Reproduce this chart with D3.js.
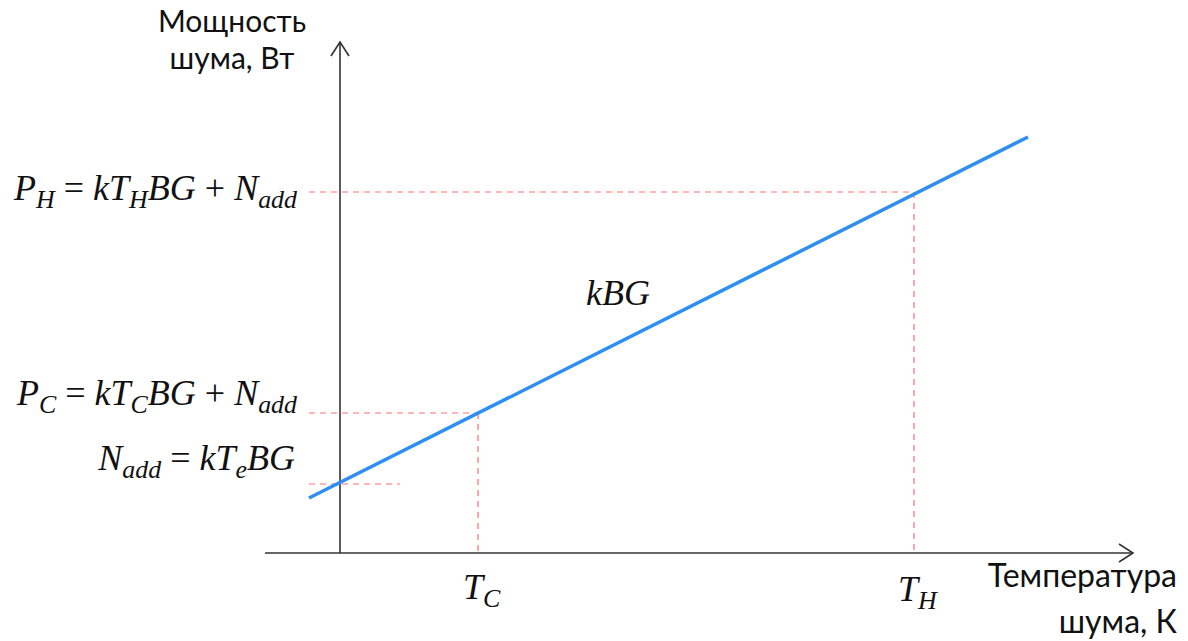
<!DOCTYPE html>
<html><head><meta charset="utf-8">
<script src="https://cdn.jsdelivr.net/npm/d3@7"></script>
<style>body{margin:0;background:#fff}svg{display:block}</style>
</head><body>
<svg id="c" width="1188" height="641"></svg>
<script>
// Data (arbitrary units: temperature T, power P)
const axisT = [-75, 793];        // x-axis extent
const axisP = [0, 511];          // y-axis extent
const lineT = [-31, 688];        // kBG line endpoints (temperature)
const lineP = [55, 416];         // kBG line endpoints (power)
const tempNames = ["T_C", "T_H"];
const tempValues = [138, 574];
const powerNames = ["P_H", "P_C", "N_add"];
const powerValues = [361, 140, 69];
const powerDashEnd = [574, 138, 60]; // where each horizontal guide ends (T)

const svg = d3.select("#c");
const x = d3.scaleLinear().domain([0, 574]).range([340, 914]);
const y = d3.scaleLinear().domain([0, 361]).range([553, 192]);

const axisColor = "#333";
const dashColor = "#ff6e6e";
const lineColor = "#2f8fef";

// dashed guides
powerValues.forEach((p, i) => {
  svg.append("line")
    .attr("x1", x(-31)).attr("x2", x(powerDashEnd[i]))
    .attr("y1", y(p)).attr("y2", y(p))
    .attr("stroke", dashColor).attr("stroke-width", 1.2)
    .attr("stroke-dasharray", "6,5");
});
tempValues.forEach((t, i) => {
  svg.append("line")
    .attr("x1", x(t)).attr("x2", x(t))
    .attr("y1", y(powerValues[i === 0 ? 1 : 0])).attr("y2", y(0))
    .attr("stroke", dashColor).attr("stroke-width", 1.2)
    .attr("stroke-dasharray", "6,5");
});

// axes
svg.append("line").attr("x1", x(axisT[0])).attr("x2", x(axisT[1]))
  .attr("y1", y(0)).attr("y2", y(0)).attr("stroke", axisColor).attr("stroke-width", 1.6);
svg.append("line").attr("x1", x(0)).attr("x2", x(0))
  .attr("y1", y(axisP[0])).attr("y2", y(axisP[1])).attr("stroke", axisColor).attr("stroke-width", 1.6);
// arrow heads
const ax = x(axisT[1]), ay = y(0);
svg.append("path").attr("d", `M${ax-14},${ay-9}L${ax},${ay}L${ax-14},${ay+9}`)
  .attr("fill", "none").attr("stroke", axisColor).attr("stroke-width", 1.6);
const bx = x(0), by = y(axisP[1]);
svg.append("path").attr("d", `M${bx-9},${by+14}L${bx},${by}L${bx+9},${by+14}`)
  .attr("fill", "none").attr("stroke", axisColor).attr("stroke-width", 1.6);

// main line
svg.append("path")
  .datum(lineT.map((t, i) => [t, lineP[i]]))
  .attr("d", d3.line().x(d => x(d[0])).y(d => y(d[1])))
  .attr("stroke", lineColor).attr("stroke-width", 3.5).attr("fill", "none");

// math text helper
function mathText(sel, segs, size) {
  const t = sel.append("text")
    .attr("font-family", "'Liberation Serif','Times New Roman',serif")
    .attr("font-style", "italic").attr("font-size", size).attr("fill", "#111");
  let shifted = false;
  segs.forEach(([s, sub]) => {
    const ts = t.append("tspan").text(s);
    if (sub && !shifted) { ts.attr("dy", size * 0.22).attr("font-size", size * 0.72); shifted = true; }
    else if (sub) { ts.attr("font-size", size * 0.72); }
    else if (!sub && shifted) { ts.attr("dy", -size * 0.22); shifted = false; }
    if (!sub && /[=+]/.test(s)) ts.attr("font-style", "normal");
  });
  return t;
}
const FS = 36;
mathText(svg, [["P",0],["H",1],[" = ",0],["kT",0],["H",1],["BG",0],[" + ",0],["N",0],["add",1]], FS)
  .attr("x", 297).attr("y", 200).attr("text-anchor", "end");
mathText(svg, [["P",0],["C",1],[" = ",0],["kT",0],["C",1],["BG",0],[" + ",0],["N",0],["add",1]], FS)
  .attr("x", 297).attr("y", 405).attr("text-anchor", "end");
mathText(svg, [["N",0],["add",1],[" = ",0],["kT",0],["e",1],["BG",0]], FS)
  .attr("x", 295).attr("y", 470).attr("text-anchor", "end");
mathText(svg, [["kBG",0]], FS).attr("x", 586).attr("y", 305);
mathText(svg, [["T",0],["C",1]], FS).attr("x", 463).attr("y", 599);
mathText(svg, [["T",0],["H",1]], FS).attr("x", 898).attr("y", 601);

// sans labels
function sans(lines, xp, ys, anchor, size) {
  const t = svg.append("text").attr("font-family", "Lato, 'Open Sans', sans-serif")
    .attr("font-size", size).attr("fill", "#111").attr("text-anchor", anchor);
  lines.forEach((l, i) => t.append("tspan").attr("x", xp).attr("y", ys[i]).text(l));
}
sans(["Мощность", "шума, Вт"], 232, [32, 69], "middle", 30);
sans(["Температура", "шума, К"], 1177, [587, 633], "end", 32);
</script>
</body></html>
